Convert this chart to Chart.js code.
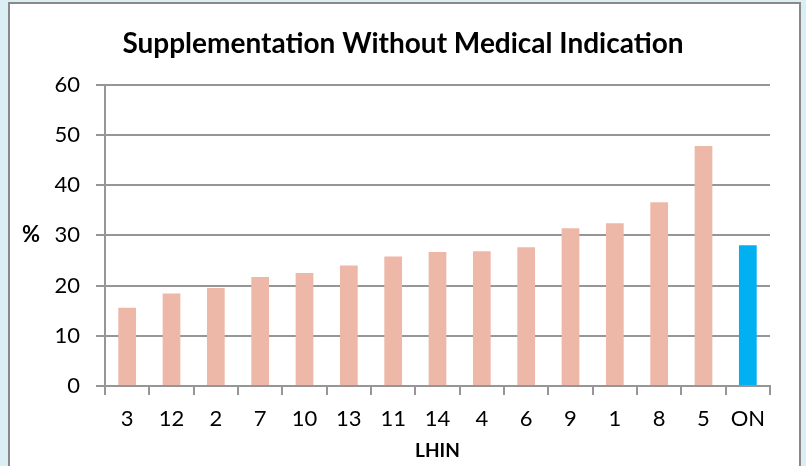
<!DOCTYPE html>
<html>
<head>
<meta charset="utf-8">
<script src="https://cdn.jsdelivr.net/npm/chart.js@4.4.0/dist/chart.umd.min.js"></script>
<style>
  html, body { margin: 0; padding: 0; width: 806px; height: 466px; overflow: hidden; background: #dbeef4; }
  #panel { position: absolute; left: 8px; top: 2px; width: 789px; height: 480px; background: #fff; border: 2px solid #898989; }
  #wrap  { position: absolute; left: 0; top: 0; width: 806px; height: 466px; }
</style>
</head>
<body>
<div id="panel"></div>
<div id="wrap"><canvas id="chart" width="806" height="466"></canvas></div>
<script>
/* ---- Dados ---- */
const lhinLabels = ['3', '12', '2', '7', '10', '13', '11', '14', '4', '6', '9', '1', '8', '5', 'ON'];
const supplementationPct = [15.6, 18.4, 19.5, 21.7, 22.5, 24.0, 25.8, 26.7, 26.8, 27.6, 31.4, 32.4, 36.6, 47.8, 28.0];
const yMin = 0, yMax = 60, yStep = 10;

const FONT = 'Lato, "Open Sans", "Liberation Sans", sans-serif';
const GRID = '#969696';

// cor do Ontario destacada
const barColors = lhinLabels.map(l => l === 'ON' ? '#00b0f0' : '#eeb8a9');

/* ---- Rótulo "%" horizontal à esquerda ---- */
const percentLabel = {
  id: 'percentLabel',
  afterDraw(chart) {
    const { ctx, chartArea } = chart;
    ctx.save();
    ctx.font = 'bold 22px ' + FONT;
    ctx.fillStyle = '#000';
    ctx.textAlign = 'center';
    ctx.textBaseline = 'middle';
    ctx.fillText('%', 31, (chartArea.top + chartArea.bottom) / 2);
    ctx.restore();
  }
};

new Chart(document.getElementById('chart').getContext('2d'), {
  type: 'bar',
  data: {
    labels: lhinLabels,
    datasets: [{
      data: supplementationPct,
      backgroundColor: barColors,
      borderWidth: 0,
      categoryPercentage: 1,
      barPercentage: 0.4
    }]
  },
  options: {
    responsive: false,
    devicePixelRatio: 1,
    animation: false,
    layout: { padding: 0 },
    plugins: {
      legend: { display: false },
      tooltip: { enabled: false },
      title: {
        display: true,
        text: 'Supplementation Without Medical Indication',
        color: '#000',
        font: { family: FONT, size: 28, weight: 'bold' },
        padding: { top: 27, bottom: 24 }
      }
    },
    scales: {
      x: {
        grid: { offset: true, drawOnChartArea: false, drawTicks: true, tickLength: 9, color: GRID, lineWidth: 2 },
        border: { color: GRID, width: 2 },
        ticks: { color: '#000', font: { family: FONT, size: 22 }, padding: 11, maxRotation: 0, autoSkip: false },
        title: { display: true, text: 'LHIN', color: '#000', font: { family: FONT, size: 19, weight: 'bold' }, padding: { top: 0, bottom: 4 } },
        afterFit: s => { s.height = 80; }
      },
      y: {
        min: yMin,
        max: yMax,
        grid: { color: GRID, lineWidth: 2, tickLength: 9 },
        border: { color: GRID, width: 2 },
        ticks: { stepSize: yStep, color: '#000', font: { family: FONT, size: 22 }, padding: 16 },
        afterFit: s => { s.width = 105; }
      },
      // eixo vazio só para reservar a margem direita
      yRight: {
        position: 'right',
        display: true,
        grid: { display: false },
        border: { display: false },
        ticks: { display: false },
        afterFit: s => { s.width = 36; }
      }
    }
  },
  plugins: [percentLabel]
});
</script>
</body>
</html>
